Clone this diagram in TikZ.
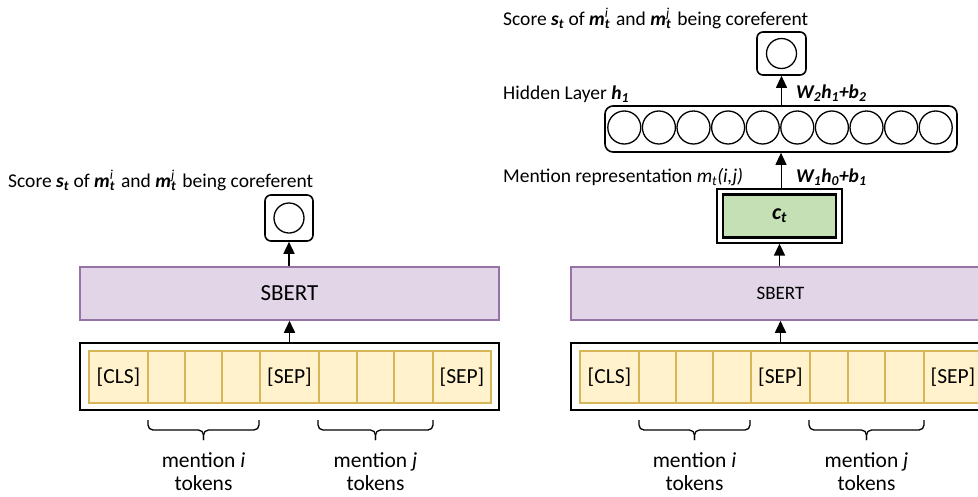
\documentclass[tikz,border=0pt]{standalone}
\usepackage{fontspec}
\setmainfont{Carlito}
\usetikzlibrary{arrows.meta,calc}
\definecolor{sbertfill}{HTML}{E1D5E7}
\definecolor{sbertline}{HTML}{9673A6}
\definecolor{tokfill}{HTML}{FFF2CC}
\definecolor{tokline}{HTML}{D6B656}
\definecolor{ctfill}{HTML}{C5E0B4}
\newcommand\fsz[1]{\fontsize{#1}{#1}\selectfont}
\newcommand\bi[1]{\textbf{\textit{#1}}}
% bold italic m with stacked subscript t and a superscript
\newcommand\mt[1]{\bi{m}\rlap{\textsubscript{\bi{t}}}\textsuperscript{\textit{#1}}\,}
\tikzset{
  sbertbox/.style={draw=sbertline, fill=sbertfill, line width=1.5pt,
    minimum width=419pt, minimum height=53pt, inner sep=0pt},
  tokcell/.style={draw=tokline, fill=tokfill, line width=2pt,
    minimum height=52pt, inner sep=0pt, anchor=west, font=\fsz{21.5}},
  frame/.style={draw=black, line width=1.8pt, inner sep=0pt},
  uparrow/.style={line width=1.6pt, -{Triangle[length=12pt,width=11pt]}},
  thinarrow/.style={line width=1pt, -{Triangle[length=12pt,width=11pt]}},
  bracepath/.style={line width=1.3pt, rounded corners=5pt},
  lbl/.style={anchor=base west, inner sep=0pt, font=\fsz{19.5}},
  toklabel/.style={align=center, inner sep=0pt, font=\fontsize{21.5}{23}\selectfont},
  unit/.style={circle, draw=black, line width=1.3pt, minimum size=32pt, inner sep=0pt},
  outbox/.style={draw=black, line width=1.6pt, rounded corners=6pt, inner sep=0pt},
}
% token row, SBERT encoder and the two mention braces
\newcommand\encoder[3]{% #1 name prefix, #2 horizontal shift, #3 SBERT font size
\begin{scope}[xshift=#2]
  \node[frame, minimum width=419pt, minimum height=67pt] (#1toks) at (289.5,376.5) {};
  \foreach \a/\b/\t/\n in {88/147/{[CLS]}/1, 147/184/{}/2, 184/221/{}/3, 221/259/{}/4,
      259/318/{[SEP]}/5, 318/356/{}/6, 356/393/{}/7, 393/432/{}/8, 432/490/{[SEP]}/9}
    \node[tokcell, minimum width=\b pt-\a pt] (#1c\n) at (\a,377) {\t};
  \node[sbertbox, font=\fsz{#3}] (#1sbert) at (289.5,293.5) {SBERT};
  \draw[uparrow] (#1toks.north) -- (#1sbert.south);
  % braces under the mention tokens
  \coordinate (#1bia) at (148,420);
  \coordinate (#1bib) at (259,420);
  \coordinate (#1bim) at (203.5,440);
  \coordinate (#1bja) at (318,420);
  \coordinate (#1bjb) at (433,420);
  \coordinate (#1bjm) at (375.5,440);
  \draw[bracepath] (#1bia) -- ++(0,10) -| (#1bim);
  \draw[bracepath] (#1bib) -- ++(0,10) -| (#1bim);
  \draw[bracepath] (#1bja) -- ++(0,10) -| (#1bjm);
  \draw[bracepath] (#1bjb) -- ++(0,10) -| (#1bjm);
  \node[toklabel] (#1li) at (203.5,472) {mention \textit{i}\\tokens};
  \node[toklabel] (#1lj) at (375.5,472) {mention \textit{j}\\tokens};
\end{scope}}

\begin{document}
\begin{tikzpicture}[x=1pt,y=-1pt]
\useasboundingbox (0,0) rectangle (978,496);
\clip (0,0) rectangle (978,496);

% ---- pairwise scorer on top of SBERT
\encoder{L}{0pt}{23}
\node[outbox, minimum width=48pt, minimum height=46pt] (Lout) at (289,218) {};
\node[unit, minimum size=30pt] (Lunit) at (Lout.center) {};
\draw[uparrow] (Lsbert.north -| Lout.south) -- (Lout.south);
\node[lbl] (Lscore) at (8,187) {Score \bi{s\textsubscript{t}} of \mt{i} and \mt{j} being coreferent};

% ---- mention representation followed by a feed-forward scorer
\encoder{R}{491pt}{19}
\node[frame, line width=1.3pt, fill=white, minimum width=125pt, minimum height=54pt] (ctout) at (779.5,216) {};
\node[draw=black, line width=2.8pt, fill=ctfill, minimum width=113pt, minimum height=43pt,
      inner sep=0pt, font=\fsz{22}] (ct) at (779.5,216) {\bi{c\textsubscript{t}}};
\draw[uparrow] (Rsbert.north -| ct.south) -- (ctout.south);

\node[outbox, rounded corners=8pt, minimum width=352pt, minimum height=46pt] (hidden) at (781,129) {};
\foreach \k in {0,...,9}
  \node[unit, minimum size=33pt] (h\k) at ({624.3+34.6*\k},127.5) {};
\draw[thinarrow] (ctout.north -| hidden.south) -- (hidden.south);

\node[outbox, minimum width=49pt, minimum height=43pt] (Rout) at (781.5,53.5) {};
\node[unit, minimum size=30pt] (Runit) at (Rout.center) {};
\draw[thinarrow] (hidden.north -| Rout.south) -- (Rout.south);

\node[lbl] (Rscore) at (503,25) {Score \bi{s\textsubscript{t}} of \mt{i} and \mt{j} being coreferent};
\node[lbl] (hlabel) at (503,99) {Hidden Layer \bi{h\textsubscript{1}}};
\node[lbl] (w2) at (796,98) {\bi{W\textsubscript{2}h\textsubscript{1}+b\textsubscript{2}}};
\node[lbl] (mlabel) at (503,182) {Mention representation \textit{m\textsubscript{t}(i,j)}};
\node[lbl] (w1) at (796,182) {\bi{W\textsubscript{1}h\textsubscript{0}+b\textsubscript{1}}};
\end{tikzpicture}
\end{document}
